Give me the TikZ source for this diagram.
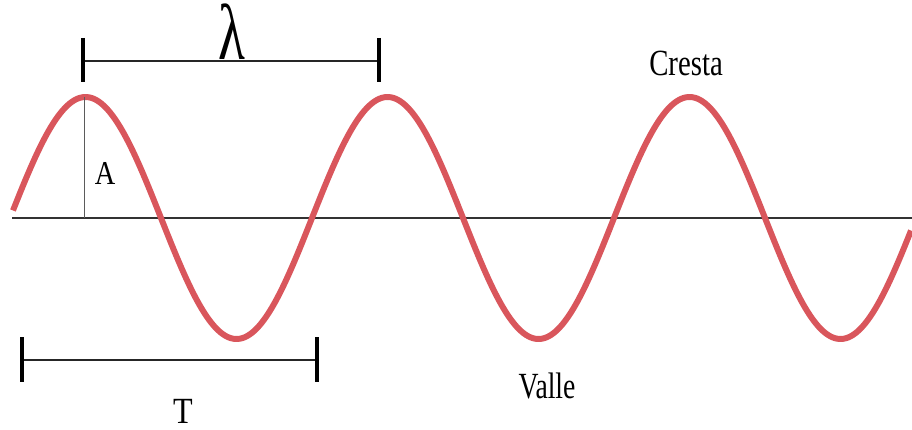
\documentclass[tikz,border=0pt]{standalone}
\usepackage{fontspec}
\setmainfont{Liberation Serif}
\definecolor{wavered}{RGB}{217,86,92}
\definecolor{axisgray}{RGB}{50,50,50}
\begin{document}
\begin{tikzpicture}[x=0.02cm,y=-0.02cm,
  wave/.style={draw=wavered,line width=3.4pt},
  axisline/.style={draw=axisgray,line width=0.85pt},
  ampline/.style={draw=axisgray!80,line width=0.55pt},
  barline/.style={draw=black!85,line width=0.85pt},
  tickline/.style={draw=black,line width=2.4pt},
  lbl/.style={inner sep=0pt,anchor=base,text=black}]
\useasboundingbox (0,0) rectangle (912,429);
% axis
\coordinate (axL) at (12,218);
\coordinate (axR) at (912,218);
\draw[axisline] (axL) -- (axR);
% wave
\draw[wave] plot[domain=13:911,samples=400,smooth] (\x,{218-121*sin((\x-10)/302*360)});
% amplitude line
\coordinate (pk) at (84,97);
\coordinate (pkb) at (84,218);
\draw[ampline] (pk) -- (pkb);
\node[lbl] (A) at (105,184) {\fontsize{19}{21}\selectfont\scalebox{0.85}[1]{A}};
% lambda bar
\coordinate (l1) at (83,61);
\coordinate (l2) at (379,61);
\coordinate (l1t) at (83,38);
\coordinate (l1b) at (83,82);
\coordinate (l2t) at (379,38);
\coordinate (l2b) at (379,82);
\draw[barline] (l1) -- (l2);
\draw[tickline] (l1t) -- (l1b);
\draw[tickline] (l2t) -- (l2b);
\node[lbl] (lam) at (232,60) {\fontsize{45}{45}\selectfont\scalebox{0.7}[1]{λ}};
% period bar
\coordinate (t1) at (22,360);
\coordinate (t2) at (317,360);
\coordinate (t1t) at (22,337);
\coordinate (t1b) at (22,382);
\coordinate (t2t) at (317,337);
\coordinate (t2b) at (317,382);
\draw[barline] (t1) -- (t2);
\draw[tickline] (t1t) -- (t1b);
\draw[tickline] (t2t) -- (t2b);
\node[lbl] (T) at (183,423) {\fontsize{21}{24}\selectfont\scalebox{0.87}[1]{T}};
% labels
\node[lbl] (cresta) at (686,75) {\fontsize{21}{24}\selectfont\scalebox{0.78}[1]{Cresta}};
\node[lbl] (valle) at (547,398) {\fontsize{21}{24}\selectfont\scalebox{0.75}[1]{Valle}};
\end{tikzpicture}
\end{document}
